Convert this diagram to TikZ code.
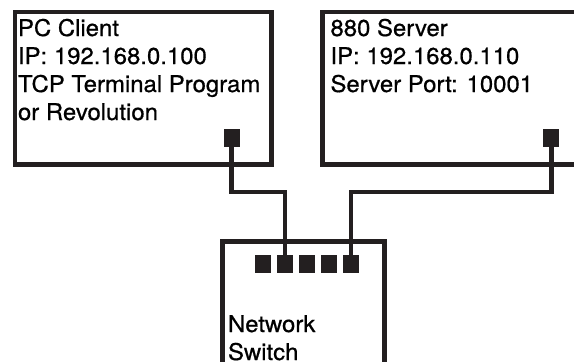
\documentclass[tikz,border=0pt]{standalone}
\usepackage{fontspec}
\setmainfont[FakeStretch=1.04,FakeBold=0.7]{TeX Gyre Heros}
\definecolor{ink}{HTML}{231F20}
\tikzset{
  devbox/.style={draw=ink, line width=4.6pt, rectangle, inner sep=0pt, outer sep=0pt},
  portsq/.style={fill=ink, draw=none, rectangle, inner sep=0pt, outer sep=0pt, minimum width=16pt, minimum height=18pt},
  wire/.style={draw=ink, line width=4.8pt},
  lbl/.style={anchor=base west, inner sep=0pt, outer sep=0pt, text=black, font=\fontsize{23}{28}\selectfont}
}
\begin{document}
\begin{tikzpicture}[x=1pt, y=-1pt]
\useasboundingbox (0,0) rectangle (574,362);
\begin{scope}
\clip (0,0) rectangle (574,362);
% boxes
\node[devbox, minimum width=256.7pt, minimum height=152.2pt] (pc) at (143.35,88.1) {};
\node[devbox, minimum width=267.5pt, minimum height=152.2pt] (srv) at (456.25,88.1) {};
\node[devbox, minimum width=162.4pt, minimum height=148.7pt] (sw) at (303.5,315.65) {};
% bus height
\coordinate (ybus) at (0,192);
% ports
\node[portsq] (pcport) at (231.5,138.3) {};
\node[portsq] (srvport) at (551.3,138.3) {};
\node[portsq] (sw1) at (263,264) {};
\node[portsq] (sw2) at (285,264) {};
\node[portsq] (sw3) at (307,264) {};
\node[portsq] (sw4) at (329,264) {};
\node[portsq] (sw5) at (351,264) {};
% wires
\draw[wire] (pcport.center) |- (sw2.center |- ybus) -- (sw2.center);
\draw[wire] (srvport.center) |- (sw5.center |- ybus) -- (sw5.center);
% labels
\node[lbl] (pctext) at (18,36) {\begin{tabular}[t]{@{}l@{}}PC Client\\IP: 192.168.0.100\\TCP Terminal Program\\or Revolution\end{tabular}};
\node[lbl] (srvtext) at (330.5,36) {\begin{tabular}[t]{@{}l@{}}880 Server\\IP: 192.168.0.110\\Server Port: 10001\end{tabular}};
\node[lbl] (swtext) at (228,332) {\begin{tabular}[t]{@{}l@{}}Network\\Switch\end{tabular}};
\end{scope}
\end{tikzpicture}
\end{document}
